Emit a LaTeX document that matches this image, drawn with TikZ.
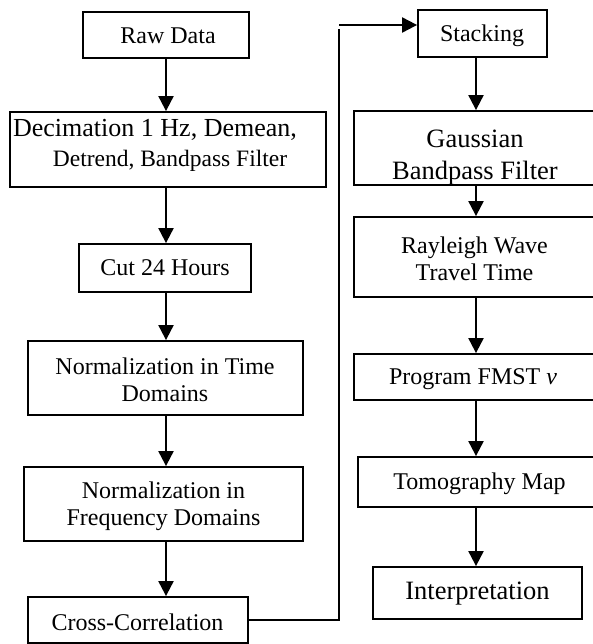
\documentclass[tikz,border=0pt]{standalone}
\usepackage{fontspec}
\setmainfont{Liberation Serif}
\usetikzlibrary{arrows.meta}
\begin{document}
\begin{tikzpicture}[x=1pt,y=-1pt,
  box/.style={draw, line width=1.8pt, inner sep=0pt, rectangle},
  lbl/.style={inner sep=0pt, align=center, font=\fontsize{24}{27}\selectfont},
  lblbig/.style={inner sep=0pt, align=center, font=\fontsize{26.5}{32}\selectfont},
  arr/.style={line width=2pt, -{Triangle[length=15pt,width=15pt]}},
  link/.style={line width=1.6pt}]
\useasboundingbox (0,0) rectangle (593,644);
\clip (0,0) rectangle (593,644);

% left column boxes
\node[box, minimum width=166pt, minimum height=46pt] (raw)   at (166,35)    {};
\node[box, minimum width=316pt, minimum height=75pt] (dec)   at (168,149.5) {};
\node[box, minimum width=172pt, minimum height=48pt] (cut)   at (165,268)   {};
\node[box, minimum width=275pt, minimum height=74pt] (nt)    at (165.5,378) {};
\node[box, minimum width=279pt, minimum height=74pt] (nf)    at (163.5,504) {};
\node[box, minimum width=220pt, minimum height=46pt] (cc)    at (138,620)   {};

% right column boxes
\node[box, minimum width=129pt, minimum height=47pt] (stack) at (482.5,33.5) {};
\node[box, minimum width=243pt, minimum height=74pt] (gauss) at (475.5,148)  {};
\node[box, minimum width=243pt, minimum height=80pt] (ray)   at (475.5,257)  {};
\node[box, minimum width=243pt, minimum height=46pt] (fmst)  at (475.5,377)  {};
\node[box, minimum width=243pt, minimum height=50pt] (tomo)  at (479.5,482)  {};
\node[box, minimum width=209pt, minimum height=52pt] (interp) at (477.5,593) {};

% labels
\node[lbl] (rawT) at (168,36) {Raw Data};
\node[inner sep=0pt, font=\fontsize{26}{32}\selectfont] (decT1) at (155,130) {Decimation 1 Hz, Demean,};
\node[inner sep=0pt, font=\fontsize{23.5}{27}\selectfont] (decT2) at (170,161) {Detrend, Bandpass Filter};
\node[lbl] (cutT) at (165,268) {Cut 24 Hours};
\node[lbl] (ntT) at (165,380) {Normalization in Time\\Domains};
\node[lbl] (nfT) at (163.5,506.5) {Normalization in\\Frequency Domains};
\node[lbl] (ccT) at (137.5,622) {Cross-Correlation};
\node[lbl] (stackT) at (482,36) {Stacking};
\node[lblbig] (gaussT) at (475,158) {Gaussian\\Bandpass Filter};
\node[lbl] (rayT) at (474.5,259) {Rayleigh Wave\\Travel Time};
\node[lbl] (fmstT) at (473,379) {Program FMST \textit{v}};
\node[lbl] (tomoT) at (479.5,484) {Tomography Map};
\node[lblbig] (interpT) at (477.5,594) {Interpretation};

% flow arrows
\coordinate (colL) at (166,0);
\coordinate (colR) at (476,0);
\draw[arr] (raw.south -| colL) -- (dec.north -| colL);
\draw[arr] (dec.south -| colL) -- (cut.north -| colL);
\draw[arr] (cut.south -| colL) -- (nt.north -| colL);
\draw[arr] (nt.south -| colL) -- (nf.north -| colL);
\draw[arr] (nf.south -| colL) -- (cc.north -| colL);
\draw[arr] (stack.south -| colR) -- (gauss.north -| colR);
\draw[arr] (gauss.south -| colR) -- (ray.north -| colR);
\draw[arr] (ray.south -| colR) -- (fmst.north -| colR);
\draw[arr] (fmst.south -| colR) -- (tomo.north -| colR);
\draw[arr] (tomo.south -| colR) -- (interp.north -| colR);

% link from cross-correlation up to stacking
\coordinate (riseTop) at (339,29);
\coordinate (turn) at (339,25);
\draw[link] (cc.east) -| (riseTop);
\draw[arr] (turn) -- (turn -| stack.west);
\end{tikzpicture}
\end{document}
